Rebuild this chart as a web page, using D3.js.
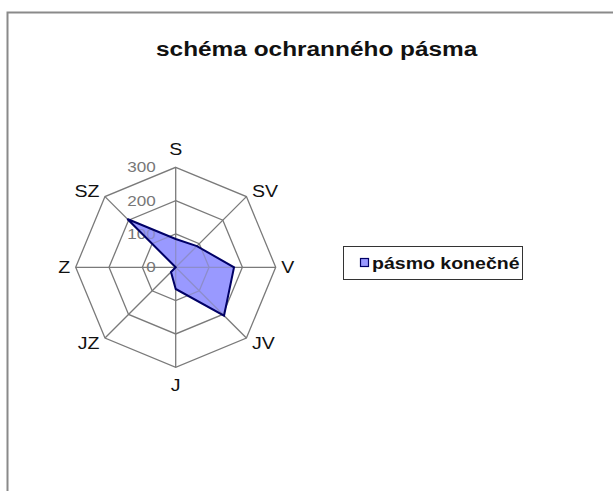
<!DOCTYPE html>
<html>
<head>
<meta charset="utf-8">
<script src="https://cdn.jsdelivr.net/npm/d3@7"></script>
<style>
  html, body { margin: 0; padding: 0; background: #fff; }
  svg { display: block; }
  text { font-family: "Liberation Sans", Arial, sans-serif; }
</style>
</head>
<body>
<svg id="chart" width="613" height="491"></svg>
<script>
// ---- data ----
const title = "schéma ochranného pásma";
const categories = ["S", "SV", "V", "JV", "J", "JZ", "Z", "SZ"];
const seriesName = "pásmo konečné";
const values = [85, 90, 175, 205, 65, 20, 0, 205];
const ticks = [0, 100, 200, 300];

// ---- layout ----
const W = 613, H = 491;
const cx = 175.7, cy = 267.3, R = 100;
const stretch = 1.22;

const svg = d3.select("#chart");

// frame
svg.append("rect")
  .attr("x", 7.5).attr("y", 12.5)
  .attr("width", W + 20).attr("height", H + 20)
  .attr("fill", "#fff")
  .attr("stroke", "#8a8a8a").attr("stroke-width", 2);

const r = d3.scaleLinear().domain([0, 300]).range([0, R]);
const angle = i => (i / categories.length) * 2 * Math.PI;
const pt = (i, v) => [cx + Math.sin(angle(i)) * r(v), cy - Math.cos(angle(i)) * r(v)];

function stretchText(sel, factor) {
  sel.each(function () {
    const len = this.getComputedTextLength();
    d3.select(this).attr("textLength", len * factor).attr("lengthAdjust", "spacingAndGlyphs");
  });
}

const lineGen = d3.line();

// series fill (under grid)
svg.append("path")
  .attr("d", lineGen(values.map((v, i) => pt(i, v))) + "Z")
  .attr("fill", "#9999ff")
  .attr("stroke", "none");

// grid rings
const grid = svg.append("g").attr("fill", "none").attr("stroke", "#7a7a7a").attr("stroke-width", 1.3);
ticks.filter(t => t > 0).forEach(t => {
  grid.append("path")
    .attr("d", lineGen(categories.map((c, i) => pt(i, t))) + "Z");
});
// spokes
categories.forEach((c, i) => {
  const [x, y] = pt(i, 300);
  grid.append("line").attr("x1", cx).attr("y1", cy).attr("x2", x).attr("y2", y);
});

// tick labels
svg.append("g").selectAll("text").data(ticks).join("text")
  .attr("x", cx - 20)
  .attr("y", d => cy - r(d))
  .attr("dy", "0.35em")
  .attr("text-anchor", "end")
  .attr("font-size", 14)
  .attr("fill", "#777")
  .text(d => d)
  .call(stretchText, stretch);

// series overlay + outline on top
svg.append("path")
  .attr("d", lineGen(values.map((v, i) => pt(i, v))) + "Z")
  .attr("fill", "#9999ff").attr("fill-opacity", 0.6)
  .attr("stroke", "#000066").attr("stroke-width", 2).attr("stroke-linejoin", "miter");

// category labels
const catG = svg.append("g");
categories.forEach((c, i) => {
  const s = Math.sin(angle(i)), co = Math.cos(angle(i));
  const [vx, vy] = pt(i, 300);
  const t = catG.append("text")
    .attr("font-size", 16)
    .attr("fill", "#111")
    .attr("text-anchor", "middle")
    .attr("dy", "0.36em")
    .text(c);
  const hw = t.node().getComputedTextLength() * stretch / 2;
  const sx = Math.abs(s) < 0.1 ? 0 : Math.sign(s);
  const x = vx + sx * (5.5 + hw);
  const y = vy - co * (Math.abs(s) < 0.1 ? 18 : 7);
  t.attr("x", x).attr("y", y).call(stretchText, stretch);
});

// title
svg.append("text")
  .attr("x", 316.7).attr("y", 56)
  .attr("text-anchor", "middle")
  .attr("font-size", 20).attr("font-weight", "bold")
  .attr("fill", "#111")
  .text(title)
  .call(stretchText, stretch);

// legend
const lg = svg.append("g");
lg.append("rect")
  .attr("x", 343.5).attr("y", 246.5).attr("width", 179).attr("height", 33)
  .attr("fill", "#fff").attr("stroke", "#333").attr("stroke-width", 1);
lg.append("rect")
  .attr("x", 360.5).attr("y", 258.5).attr("width", 8).attr("height", 8)
  .attr("fill", "#9999ff").attr("stroke", "#000066").attr("stroke-width", 1.2);
lg.append("text")
  .attr("x", 372).attr("y", 263)
  .attr("dy", "0.35em")
  .attr("font-size", 16).attr("font-weight", "bold")
  .attr("fill", "#111")
  .text(seriesName)
  .call(stretchText, stretch);
</script>
</body>
</html>
